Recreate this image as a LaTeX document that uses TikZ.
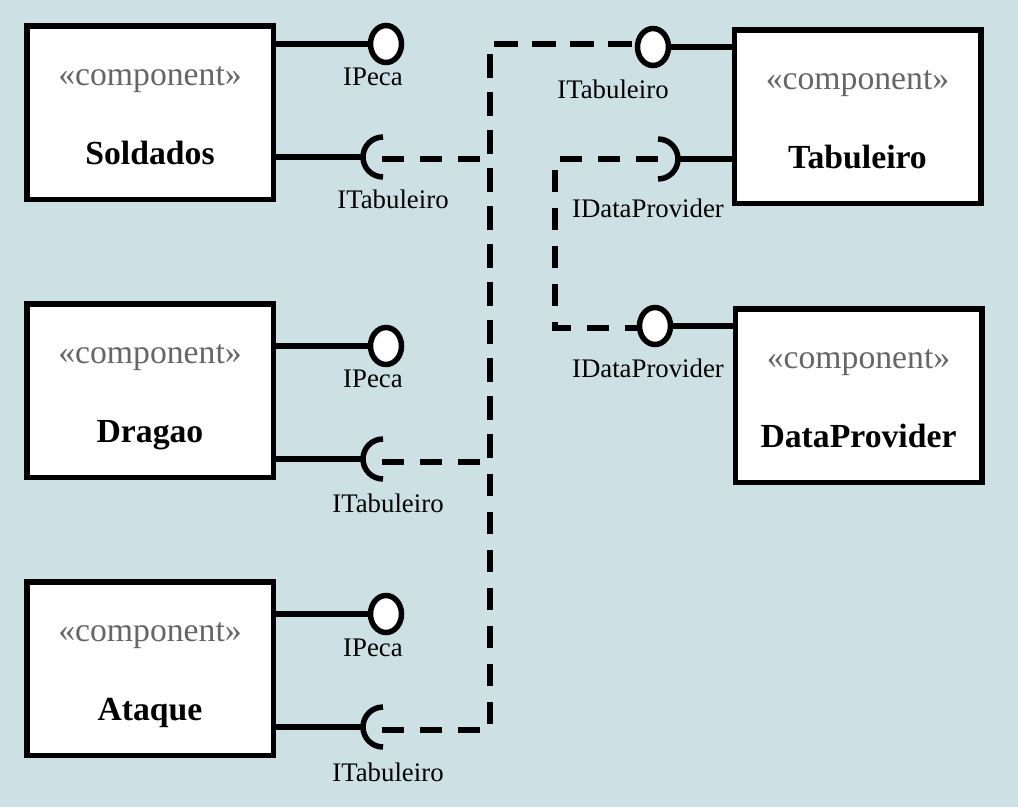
\documentclass[tikz,border=0pt]{standalone}
\usepackage{fontspec}
\setmainfont{Liberation Serif}
\usetikzlibrary{shapes.geometric}
\definecolor{bg}{HTML}{CDE0E4}
\definecolor{stereo}{HTML}{666666}
\begin{document}
\begin{tikzpicture}[x=1pt,y=1pt,
  comp/.style={draw, line width=5.5pt, fill=white, minimum width=246.5pt, minimum height=173.5pt, inner sep=0pt},
  lol/.style={ellipse, draw, line width=5.5pt, fill=white, minimum width=31pt, minimum height=37pt, inner sep=0pt},
  lbl/.style={font=\fontsize{26.8}{30}\selectfont, anchor=base, inner sep=0pt},
  ster/.style={font=\fontsize{33.7}{40}\selectfont, text=stereo, anchor=base, inner sep=0pt},
  nm/.style={font=\fontsize{33.7}{40}\selectfont\bfseries, anchor=base, inner sep=0pt},
  ln/.style={line width=5.5pt},
  dsh/.style={line width=5.5pt, dash pattern=on 22pt off 16pt}]
\fill[bg] (0,0) rectangle (1018,-807);
\useasboundingbox (0,0) rectangle (1018,-807);

% components
\node[comp] (sold) at (150,-112.5) {};
\node[comp] (drag) at (150,-390.5) {};
\node[comp] (atq) at (150,-668.5) {};
\node[comp] (tab) at (857.5,-116.5) {};
\node[comp] (dp) at (858.5,-395.5) {};
\foreach \b/\t in {sold/Soldados, drag/Dragao, atq/Ataque, tab/Tabuleiro, dp/DataProvider}{
  \node[ster] (\b-st) at ([yshift=27.5pt]\b.center) {«component»};
  \node[nm] (\b-nm) at ([yshift=-51.5pt]\b.center) {\t};
}

% provided interfaces (lollipops)
\node[lol] (c1) at (386,-44) {};
\node[lol] (c2) at (386,-346) {};
\node[lol] (c3) at (386,-614) {};
\node[lol] (ct) at (653,-47) {};
\node[lol] (cd) at (655,-326) {};
\draw[ln] (sold.east |- c1) -- (c1.west);
\draw[ln] (drag.east |- c2) -- (c2.west);
\draw[ln] (atq.east |- c3) -- (c3.west);
\draw[ln] (ct.east) -- (tab.west |- ct);
\draw[ln] (cd.east) -- (dp.west |- cd);

% required interfaces (sockets)
\coordinate (s1) at (383,-157);
\coordinate (s2) at (383,-459);
\coordinate (s3) at (383,-727);
\coordinate (st) at (658,-159);
\foreach \s/\b in {s1/sold, s2/drag, s3/atq}{
  \draw[ln] (\b.east |- \s) -- ([xshift=-20pt]\s.center);
  \draw[ln] ([yshift=20pt]\s.center) arc[start angle=90, end angle=270, radius=20pt];
}
\draw[ln] (tab.west |- st) -- ([xshift=20pt]st.center);
\draw[ln] ([yshift=20pt]st.center) arc[start angle=90, end angle=-90, radius=20pt];

% dashed assembly connectors
\coordinate (d1) at (382,-159);
\coordinate (d2) at (382,-462);
\coordinate (d3) at (382,-730);
\coordinate (jt) at (490,-44);
\draw[dsh] (d1) -- (490,-159) -- (jt) -- (ct.west |- jt);
\draw[dsh] (d2) -- (490,-462) -- (jt) -- (ct.west |- jt);
\draw[dsh] (d3) -- (490,-730) -- (jt) -- (ct.west |- jt);
\coordinate (dt) at (658,-159);
\draw[dsh] (dt) -- (555,-159) -- (555,-328) -- (cd.west |- 0,-328);

% labels
\node[lbl] (l1) at (373,-85) {IPeca};
\node[lbl] (l2) at (373,-387) {IPeca};
\node[lbl] (l3) at (373,-656) {IPeca};
\node[lbl] (l4) at (393,-208) {ITabuleiro};
\node[lbl] (l5) at (388,-512) {ITabuleiro};
\node[lbl] (l6) at (388,-781) {ITabuleiro};
\node[lbl] (l7) at (613,-98) {ITabuleiro};
\node[lbl] (l8) at (648,-217) {IDataProvider};
\node[lbl] (l9) at (648,-377) {IDataProvider};
\end{tikzpicture}
\end{document}
